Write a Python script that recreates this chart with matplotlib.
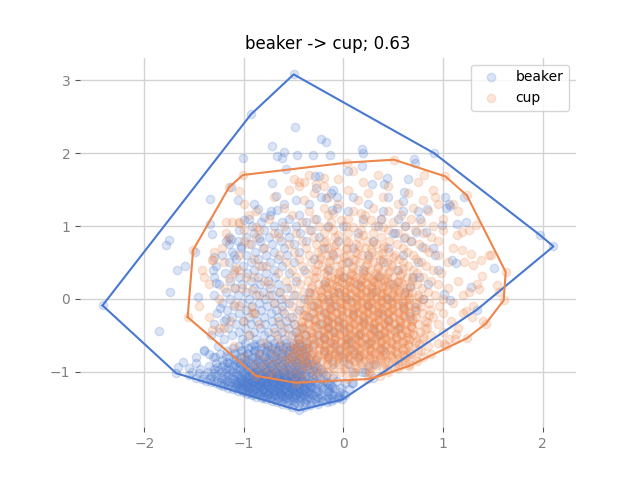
import numpy as np
import matplotlib
matplotlib.use("Agg")
import matplotlib.pyplot as plt

labels = ["beaker", "cup"]
colors = ["#4878d0", "#ee854a"]
title = "beaker -> cup; 0.63"

# ---- beaker (blue) ----
beaker_points = [
    (-2.42, -0.09), (-0.50, 3.08), (-0.93, 2.53), (-0.49, 2.36), (0.91, 2.00), (2.11, 0.72),
    (1.97, 0.88), (-0.01, -1.38), (-0.45, -1.53), (-1.68, -1.02), (-1.665, -0.93), (-1.61, -0.87),
    (-1.85, -0.44), (-1.755, 0.81), (-1.78, 0.74), (-1.67, 0.40), (-1.59, 0.45), (-1.74, 0.09),
    (-1.46, 0.02), (-1.49, 0.65), (-1.32, 0.89), (-1.34, 1.37), (-1.06, 1.36), (-1.13, 1.54),
    (-1.01, 1.93), (-0.72, 2.10), (-0.23, 2.20), (-0.18, 2.15), (-0.60, 2.01), (-0.67, 1.96),
    (-0.62, 1.93), (-0.47, 1.98), (-0.31, 1.98), (-0.13, 1.98), (0.19, 2.05), (0.20, 2.00),
    (0.19, 1.83), (0.05, 1.76), (0.71, 1.92), (0.72, 1.87), (-0.58, 1.78), (-0.29, 1.69),
    (-0.25, 1.69), (-0.72, 1.59), (-0.28, 1.52), (0.44, 1.66), (0.65, 1.64), (0.29, 1.58),
    (0.41, 1.57), (0.61, 1.47), (1.025, 1.40), (1.21, 1.40), (1.06, 1.30), (1.075, 1.27),
    (1.03, 1.25), (0.84, 1.24), (0.60, 1.34), (0.60, 1.20), (0.38, 1.10), (0.99, 1.01),
    (1.14, 1.03), (1.23, 1.05), (0.77, 1.10), (0.83, 0.92), (0.73, 0.92), (-0.68, 1.41),
    (-0.48, 1.36), (-0.23, 1.40), (-0.18, 1.38), (-0.12, 1.45), (-0.06, 1.40), (-0.86, 1.23),
    (-0.73, 1.20), (-0.80, 1.13), (-0.67, 1.22), (-1.00, 1.08), (-1.34, 1.03), (-1.13, 0.82),
    (-1.06, 0.79), (-1.15, 0.75), (-1.03, 0.73), (-0.85, 0.83), (1.51, 0.43), (1.28, 0.16),
    (1.34, -0.15), (0.79, 0.71), (0.92, 0.60), (1.09, 0.53), (1.13, 0.49), (1.01, 0.07),
    (1.075, -0.02), (-0.10, 1.50), (-0.06, 1.25), (-0.11, 1.22), (0.61, 0.83), (0.52, 0.90),
    (0.67, 0.16), (0.76, 0.30), (0.72, -0.11), (0.67, -0.23), (0.19, -1.01), (0.25, -0.92),
    (0.30, -1.08), (0.09, -1.15), (0.02, -1.15), (-0.05, -1.33), (-0.11, -1.22), (-0.10, -1.08),
    (-1.40, -0.70), (-1.35, -0.76), (-1.29, -0.80), (-1.30, 0.58), (-1.31, 0.40), (-1.28, 0.22),
    (-1.15, 0.85), (-1.10, 0.60), (-1.24, -0.12), (-1.18, -0.28), (-1.55, -0.95), (-1.48, -0.80),
]

beaker_rows = [
    (-1.48, [-0.52, -0.40]),
    (-1.44, [-0.62, -0.50, -0.38, -0.26]),
    (-1.40, [-0.72, -0.63, -0.54, -0.44, -0.33, -0.22, -0.12]),
    (-1.36, [-0.82, -0.74, -0.66, -0.58, -0.50, -0.42, -0.34, -0.25, -0.14, -0.05]),
    (-1.32, [-0.92, -0.85, -0.77, -0.69, -0.62, -0.55, -0.48, -0.40, -0.31, -0.22, -0.10, 0.02]),
    (-1.28, [-1.01, -0.94, -0.87, -0.80, -0.73, -0.66, -0.59, -0.52, -0.45, -0.37, -0.28, -0.16, -0.03]),
    (-1.24, [-1.11, -1.04, -0.96, -0.89, -0.82, -0.75, -0.68, -0.61, -0.54, -0.47, -0.40, -0.32, -0.21, -0.08, 0.06]),
    (-1.20, [-1.21, -1.13, -1.06, -0.98, -0.91, -0.84, -0.77, -0.70, -0.63, -0.56, -0.49, -0.41, -0.33, -0.22, -0.11]),
    (-1.16, [-1.28, -1.19, -1.10, -1.02, -0.95, -0.88, -0.81, -0.74, -0.67, -0.60, -0.53, -0.45, -0.36, -0.26, -0.15, 0.10]),
    (-1.12, [-1.38, -1.27, -1.17, -1.08, -1.00, -0.92, -0.85, -0.78, -0.71, -0.64, -0.57, -0.50, -0.42, -0.33, -0.20, -0.06]),
    (-1.08, [-1.48, -1.34, -1.22, -1.12, -1.04, -0.96, -0.88, -0.81, -0.74, -0.67, -0.60, -0.53, -0.45, -0.36, -0.24]),
    (-1.04, [-1.55, -1.40, -1.27, -1.16, -1.07, -0.99, -0.91, -0.83, -0.75, -0.68, -0.60, -0.52, -0.43, -0.32, -0.18]),
    (-1.00, [-1.52, -1.36, -1.23, -1.12, -1.02, -0.93, -0.85, -0.77, -0.69, -0.61, -0.53, -0.44, -0.34, -0.21]),
    (-0.96, [-1.44, -1.30, -1.18, -1.07, -0.97, -0.88, -0.79, -0.71, -0.62, -0.54, -0.45, -0.35, -0.24]),
    (-0.92, [-1.35, -1.22, -1.11, -1.01, -0.91, -0.82, -0.73, -0.64, -0.55, -0.46, -0.37, -0.27]),
    (-0.88, [-1.48, -1.28, -1.15, -1.04, -0.94, -0.84, -0.75, -0.66, -0.56, -0.47, -0.37]),
    (-0.84, [-1.22, -1.10, -0.99, -0.88, -0.78, -0.68, -0.59, -0.49, -0.39, -0.28]),
    (-0.80, [-1.31, -1.15, -1.03, -0.92, -0.81, -0.71, -0.62, -0.52, -0.42]),
    (-0.76, [-1.24, -1.09, -0.96, -0.85, -0.74, -0.64, -0.55, -0.45]),
    (-0.72, [-1.40, -1.17, -1.03, -0.90, -0.78, -0.68, -0.57, -0.47, -0.35]),
    (-0.68, [-1.11, -0.96, -0.83, -0.72, -0.61, -0.50, -0.38]),
    (-0.64, [-1.26, -1.05, -0.89, -0.76, -0.65, -0.54, -0.42]),
    (-0.60, [-0.99, -0.84, -0.70, -0.58, -0.45, -0.30]),
    (-0.55, [-1.20, -1.02, -0.88, -0.74, -0.60, -0.46, -0.20, 0.05]),
    (-0.50, [-1.33, -1.12, -0.95, -0.80, -0.67, -0.52, -0.38]),
    (-0.45, [-1.25, -1.05, -0.90, -0.76, -0.62, -0.48, -0.10]),
    (-0.40, [-1.16, -0.99, -0.84, -0.70, -0.56, -0.42]),
    (-0.35, [-1.30, -1.08, -0.93, -0.79, -0.64, -0.50, -0.25]),
    (-0.30, [-1.20, -1.01, -0.87, -0.72, -0.58, -0.15]),
    (-0.25, [-1.12, -0.95, -0.80, -0.66, -0.52, -0.35]),
    (-0.20, [-1.27, -1.05, -0.89, -0.73, -0.60]),
    (-0.15, [-1.17, -0.98, -0.83, -0.68, -0.45]),
    (-0.10, [-1.10, -0.92, -0.77, -0.62, -0.30]),
    (-0.05, [-1.22, -1.02, -0.85, -0.70, -0.55]),
    (0.00, [-1.14, -0.95, -0.79, -0.63, -0.40]),
    (0.05, [-1.30, -1.06, -0.88, -0.72, -0.50]),
    (0.10, [-1.18, -0.98, -0.81, -0.65, -0.35]),
    (0.15, [-1.09, -0.90, -0.74, -0.57]),
    (0.20, [-1.25, -1.02, -0.84, -0.66]),
    (0.25, [-1.14, -0.93, -0.76, -0.48]),
    (0.30, [-1.30, -1.05, -0.86, -0.69]),
    (0.35, [-1.19, -0.97, -0.78, -0.55]),
    (0.40, [-1.10, -0.90, -0.70, -0.40]),
    (0.45, [-1.28, -1.01, -0.82, -0.62]),
    (0.50, [-1.15, -0.93, -0.74, -0.50]),
    (0.55, [-1.08, -0.86, -0.66, -0.30]),
    (0.60, [-1.22, -0.98, -0.78, -0.57]),
    (0.65, [-1.12, -0.89, -0.70, -0.45]),
    (0.70, [-1.03, -0.81, -0.60, -0.20]),
    (0.75, [-0.93, -0.72, -0.50]),
    (0.80, [-1.18, -0.84, -0.63, -0.38]),
    (0.85, [-0.98, -0.75, -0.55, -0.25]),
    (0.90, [-0.90, -0.66, -0.44]),
    (0.95, [-1.05, -0.80, -0.58, -0.33]),
    (1.00, [-0.92, -0.70, -0.48, -0.15]),
    (1.05, [-0.83, -0.62, -0.38]),
    (1.10, [-0.95, -0.55, -0.28]),
    (1.15, [-0.74, -0.45]),
    (1.30, [-0.90, -0.60, -0.35]),
    (-1.00, [0.10, 0.22]),
    (-0.90, [-0.10, 0.05, 0.32]),
    (-0.80, [-0.15, 0.00, 0.15]),
    (-0.70, [-0.20, -0.05, 0.10, 0.40]),
    (-0.60, [-0.10, 0.05, 0.25]),
    (-0.50, [-0.25, 0.15, 0.35]),
    (-0.40, [-0.15, 0.00, 0.30, 0.55]),
    (-0.30, [-0.05, 0.20, 0.45]),
    (-0.20, [-0.20, 0.10, 0.38]),
    (-0.10, [-0.10, 0.25, 0.60]),
    (0.00, [-0.15, 0.05, 0.45, 0.80]),
    (0.10, [-0.05, 0.30, 0.62]),
    (0.20, [-0.20, 0.15, 0.50, 0.85]),
    (0.30, [0.00, 0.35, 0.70]),
    (0.40, [-0.15, 0.20, 0.55, 0.95]),
    (0.50, [0.05, 0.40, 0.75]),
    (0.60, [-0.10, 0.25, 0.60]),
    (0.70, [0.10, 0.45, 0.90]),
    (0.80, [-0.05, 0.30, 0.68]),
    (0.90, [0.15, 0.50]),
    (1.00, [0.00, 0.35, 0.62]),
    (1.10, [0.20, 0.55]),
    (1.20, [0.05, 0.40, 0.75]),
    (1.30, [0.25]),
    (1.40, [0.10, 0.45]),
]

beaker_core_rows = [
    (-1.46, [-0.56, -0.46, -0.34]),
    (-1.42, [-0.67, -0.58, -0.49, -0.39, -0.28, -0.17]),
    (-1.38, [-0.78, -0.70, -0.62, -0.54, -0.46, -0.38, -0.29, -0.19, -0.09]),
    (-1.34, [-0.88, -0.81, -0.73, -0.65, -0.58, -0.51, -0.44, -0.36, -0.27, -0.16, -0.04]),
    (-1.30, [-0.97, -0.90, -0.83, -0.76, -0.70, -0.63, -0.56, -0.49, -0.41, -0.33, -0.24, -0.12, 0.00]),
    (-1.26, [-1.06, -0.99, -0.92, -0.85, -0.78, -0.71, -0.64, -0.57, -0.50, -0.43, -0.35, -0.26, -0.14]),
    (-1.22, [-1.16, -1.09, -1.01, -0.94, -0.87, -0.80, -0.73, -0.66, -0.59, -0.52, -0.45, -0.37, -0.28, -0.16, -0.02]),
    (-1.18, [-1.24, -1.16, -1.08, -1.00, -0.93, -0.86, -0.79, -0.72, -0.65, -0.58, -0.51, -0.43, -0.34, -0.24, -0.13]),
    (-1.14, [-1.33, -1.23, -1.14, -1.05, -0.97, -0.90, -0.83, -0.76, -0.69, -0.62, -0.55, -0.47, -0.39, -0.29, -0.17]),
    (-1.10, [-1.42, -1.30, -1.19, -1.10, -1.02, -0.94, -0.87, -0.80, -0.73, -0.66, -0.59, -0.51, -0.42, -0.31]),
    (-1.06, [-1.33, -1.21, -1.11, -1.03, -0.95, -0.87, -0.79, -0.72, -0.64, -0.56, -0.48, -0.39, -0.28]),
    (-1.02, [-1.45, -1.30, -1.18, -1.08, -0.99, -0.90, -0.82, -0.74, -0.66, -0.58, -0.49, -0.39, -0.26]),
    (-0.98, [-1.26, -1.14, -1.04, -0.95, -0.86, -0.77, -0.69, -0.60, -0.51, -0.42, -0.31]),
    (-0.94, [-1.27, -1.16, -1.05, -0.95, -0.86, -0.77, -0.68, -0.59, -0.50, -0.41, -0.30]),
    (-0.90, [-1.20, -1.09, -0.99, -0.89, -0.79, -0.70, -0.61, -0.52, -0.42, -0.32]),
    (-0.86, [-1.17, -1.06, -0.96, -0.86, -0.77, -0.68, -0.58, -0.48, -0.38]),
    (-0.82, [-1.08, -0.97, -0.86, -0.76, -0.66, -0.56, -0.46, -0.35]),
    (-0.78, [-1.18, -1.00, -0.89, -0.79, -0.69, -0.59, -0.49, -0.38]),
    (-0.74, [-1.10, -0.97, -0.85, -0.73, -0.62, -0.51, -0.40]),
    (-0.70, [-1.02, -0.89, -0.77, -0.66, -0.55, -0.43]),
    (-0.66, [-0.93, -0.80, -0.69, -0.58, -0.47]),
    (-0.62, [-0.90, -0.77, -0.64, -0.51, -0.38]),
    (-1.33, [-0.80, -0.71, -0.61, -0.52, -0.43]),
    (-1.29, [-0.95, -0.85, -0.75, -0.64, -0.55, -0.45, -0.35]),
    (-1.25, [-1.02, -0.91, -0.81, -0.70, -0.61, -0.51, -0.41]),
    (-1.21, [-1.04, -0.95, -0.84, -0.75, -0.65, -0.54, -0.45, -0.34]),
    (-1.17, [-1.07, -0.97, -0.86, -0.77, -0.66, -0.57, -0.46, -0.37]),
    (-1.13, [-1.03, -0.92, -0.83, -0.72, -0.63, -0.52, -0.43]),
    (-1.09, [-0.99, -0.89, -0.78, -0.69, -0.58, -0.49]),
    (-1.05, [-0.94, -0.85, -0.74, -0.65, -0.54, -0.45]),
    (-1.01, [-0.88, -0.79, -0.68, -0.59, -0.48]),
]

# ---- cup (orange) ----
cup_points = [
    (-1.51, 0.67), (-1.565, -0.25), (-1.01, 1.70), (-1.15, 1.53), (0.04, 1.87), (0.506, 1.91),
    (1.025, 1.68), (1.24, 1.42), (1.63, 0.37), (1.61, -0.02), (1.43, -0.34), (1.24, -0.54),
    (0.66, -0.92), (0.37, -1.055), (-0.48, -1.15), (-0.88, -1.055),
    (0.81, 1.70), (-1.05, 1.48), (-1.32, 0.53), (-1.16, 0.82), (1.545, 0.19), (1.56, 0.10),
    (1.48, 0.60), (1.38, 0.53), (1.39, 0.31), (1.36, 0.14), (1.40, -0.30), (1.29, -0.25),
    (1.33, 1.01), (1.26, 0.94), (1.19, 0.92), (1.14, 0.88), (1.28, 0.62), (1.21, 0.51),
    (1.19, 0.67), (1.30, 0.47), (1.06, -0.55), (1.01, -0.62), (1.13, -0.48), (1.46, 0.60),
    (1.34, 0.21), (1.26, 0.09), (1.23, -0.16), (1.10, 1.30), (1.15, 1.20), (0.92, 1.40),
    (-1.18, 1.05), (-1.12, 1.06), (-1.05, 1.04), (-0.88, 0.98), (-0.88, 0.85), (-0.50, 1.65),
    (-0.40, 1.60), (-0.28, 1.58), (-0.20, 1.66), (-0.45, 1.55), (-1.35, 0.20), (-1.42, 0.40),
    (-1.25, -0.40), (-1.45, -0.10), (-1.32, -0.43), (-1.14, -0.30), (-1.00, -0.30), (-0.93, -0.11),
    (-1.10, -0.07), (-1.31, 0.53), (-1.15, 0.28), (-1.02, 0.15), (-1.08, 0.42),
    (-1.10, 0.35), (-0.98, 0.30), (-0.92, 0.12), (-0.85, 0.45), (-1.05, 0.60), (-0.95, 0.75),
    (-1.20, 0.15), (-0.80, 0.25), (-0.75, 0.05), (-0.90, -0.20), (-1.00, 0.95), (-1.22, 0.70),
    (-0.70, 0.90), (-0.95, 1.15),
]

cup_rows = [
    (-1.10, [-0.40, -0.20, 0.05, 0.25]),
    (-1.05, [-0.70, -0.50, -0.30, -0.10, 0.10, 0.28]),
    (-1.00, [-0.75, -0.58, -0.42, -0.28, -0.15, -0.02, 0.12, 0.26, 0.45]),
    (-0.95, [-0.82, -0.64, -0.48, -0.35, -0.22, -0.10, 0.02, 0.14, 0.27, 0.40, 0.55]),
    (-0.90, [-0.90, -0.70, -0.54, -0.41, -0.29, -0.17, -0.05, 0.06, 0.18, 0.30, 0.42, 0.56, 0.66]),
    (-0.85, [-0.78, -0.60, -0.46, -0.34, -0.22, -0.11, 0.00, 0.11, 0.22, 0.33, 0.45, 0.58, 0.74]),
    (-0.80, [-1.00, -0.68, -0.52, -0.39, -0.27, -0.16, -0.05, 0.05, 0.15, 0.26, 0.37, 0.49, 0.62, 0.80]),
    (-0.75, [-0.85, -0.60, -0.45, -0.32, -0.20, -0.09, 0.01, 0.11, 0.21, 0.31, 0.42, 0.54, 0.68, 0.88]),
    (-0.70, [-0.72, -0.52, -0.38, -0.25, -0.14, -0.03, 0.07, 0.17, 0.27, 0.37, 0.48, 0.60, 0.75]),
    (-0.65, [-1.10, -0.62, -0.44, -0.31, -0.19, -0.08, 0.02, 0.12, 0.22, 0.32, 0.42, 0.53, 0.66, 0.85, 1.03]),
    (-0.60, [-0.80, -0.52, -0.37, -0.25, -0.13, -0.02, 0.08, 0.18, 0.28, 0.38, 0.48, 0.59, 0.72, 0.95]),
    (-0.55, [-0.66, -0.45, -0.31, -0.19, -0.08, 0.03, 0.13, 0.23, 0.33, 0.43, 0.54, 0.66, 0.80, 1.12]),
    (-0.50, [-0.95, -0.56, -0.39, -0.26, -0.14, -0.03, 0.07, 0.17, 0.27, 0.37, 0.47, 0.58, 0.71, 0.88]),
    (-0.45, [-0.70, -0.48, -0.33, -0.20, -0.09, 0.02, 0.12, 0.22, 0.32, 0.42, 0.52, 0.63, 0.77, 1.00]),
    (-0.40, [-1.20, -0.60, -0.41, -0.27, -0.15, -0.04, 0.06, 0.16, 0.26, 0.36, 0.46, 0.57, 0.69, 0.84, 1.15]),
    (-0.35, [-0.85, -0.50, -0.35, -0.22, -0.10, 0.01, 0.11, 0.21, 0.31, 0.41, 0.51, 0.62, 0.75, 0.95]),
    (-0.30, [-0.66, -0.43, -0.29, -0.16, -0.05, 0.06, 0.16, 0.26, 0.36, 0.46, 0.57, 0.69, 0.82, 1.08]),
    (-0.25, [-1.35, -0.55, -0.37, -0.23, -0.11, 0.00, 0.10, 0.20, 0.30, 0.40, 0.50, 0.61, 0.73, 0.90]),
    (-0.20, [-0.92, -0.47, -0.31, -0.18, -0.06, 0.05, 0.15, 0.25, 0.35, 0.45, 0.55, 0.66, 0.79, 1.00, 1.20]),
    (-0.15, [-0.62, -0.40, -0.25, -0.12, -0.01, 0.10, 0.20, 0.30, 0.40, 0.50, 0.61, 0.73, 0.87]),
    (-0.10, [-1.05, -0.52, -0.33, -0.19, -0.07, 0.04, 0.14, 0.24, 0.34, 0.44, 0.54, 0.65, 0.78, 0.96, 1.30]),
    (-0.05, [-0.70, -0.44, -0.27, -0.14, -0.02, 0.09, 0.19, 0.29, 0.39, 0.49, 0.60, 0.72, 0.86, 1.10]),
    (0.00, [-1.25, -0.58, -0.36, -0.21, -0.08, 0.03, 0.13, 0.23, 0.33, 0.43, 0.54, 0.66, 0.80, 1.00]),
    (0.05, [-0.85, -0.48, -0.29, -0.15, -0.03, 0.08, 0.18, 0.28, 0.38, 0.49, 0.61, 0.75, 0.92, 1.20]),
    (0.10, [-0.64, -0.40, -0.23, -0.10, 0.02, 0.13, 0.23, 0.33, 0.44, 0.56, 0.69, 0.85]),
    (0.15, [-1.10, -0.53, -0.33, -0.17, -0.04, 0.08, 0.18, 0.28, 0.39, 0.51, 0.64, 0.79, 1.05]),
    (0.20, [-0.75, -0.44, -0.26, -0.11, 0.02, 0.13, 0.24, 0.35, 0.47, 0.60, 0.74, 0.95]),
    (0.25, [-0.58, -0.36, -0.19, -0.05, 0.07, 0.18, 0.30, 0.42, 0.55, 0.69, 0.88, 1.15]),
    (0.30, [-1.40, -0.90, -0.48, -0.28, -0.12, 0.01, 0.13, 0.25, 0.37, 0.50, 0.64, 0.80]),
    (0.35, [-0.66, -0.38, -0.20, -0.05, 0.08, 0.20, 0.32, 0.45, 0.59, 0.74, 0.98]),
    (0.40, [-1.05, -0.52, -0.30, -0.13, 0.02, 0.15, 0.27, 0.40, 0.54, 0.70, 0.90]),
    (0.45, [-0.78, -0.42, -0.22, -0.06, 0.09, 0.22, 0.35, 0.49, 0.65, 0.83]),
    (0.50, [-1.20, -0.58, -0.33, -0.14, 0.03, 0.17, 0.30, 0.44, 0.60, 0.78, 1.05]),
    (0.55, [-0.90, -0.45, -0.24, -0.06, 0.10, 0.25, 0.40, 0.56, 0.73]),
    (0.60, [-0.65, -0.35, -0.15, 0.03, 0.19, 0.35, 0.52, 0.70, 0.95]),
    (0.65, [-1.30, -0.50, -0.26, -0.06, 0.12, 0.29, 0.46, 0.64, 0.86]),
    (0.70, [-0.80, -0.38, -0.16, 0.04, 0.22, 0.40, 0.60, 0.82, 1.10]),
    (0.75, [-0.55, -0.28, -0.07, 0.13, 0.33, 0.54, 0.76]),
    (0.80, [-1.00, -0.42, -0.18, 0.03, 0.24, 0.46, 0.68, 0.95]),
    (0.85, [-0.65, -0.30, -0.08, 0.15, 0.38, 0.62, 0.88]),
    (0.90, [-1.18, -0.48, -0.20, 0.05, 0.30, 0.55, 0.80]),
    (0.95, [-0.85, -0.35, -0.10, 0.18, 0.45, 0.72, 1.00]),
    (1.00, [-0.60, -0.25, 0.03, 0.32, 0.62, 0.90]),
    (1.05, [-1.05, -0.42, -0.12, 0.20, 0.50, 0.78]),
    (1.10, [-0.75, -0.30, 0.05, 0.38, 0.68, 1.00]),
    (1.15, [-0.52, -0.15, 0.22, 0.58]),
    (1.20, [-0.88, -0.35, 0.10, 0.45, 0.85]),
    (1.25, [-0.60, -0.20, 0.30, 0.70]),
    (1.30, [-1.00, -0.05, 0.55, 0.95]),
    (1.35, [-0.40, 0.15, 0.80]),
    (1.40, [-0.70, -0.15, 0.40]),
    (1.45, [-0.30, 0.25, 0.65]),
    (1.50, [-0.55, 0.05, 0.90]),
    (1.55, [-0.20, 0.45]),
    (1.60, [-0.45, 0.20, 0.75]),
    (1.65, [-0.05]),
    (1.70, [-0.35, 0.35]),
    (1.75, [0.10]),
]

cup_core_rows = [
    (-0.825, [-0.55, -0.40, -0.28, -0.16, -0.05, 0.06, 0.16, 0.27, 0.38, 0.50]),
    (-0.775, [-0.52, -0.38, -0.26, -0.14, -0.04, 0.06, 0.16, 0.26, 0.36, 0.47, 0.60]),
    (-0.725, [-0.45, -0.31, -0.19, -0.08, 0.02, 0.12, 0.22, 0.32, 0.42, 0.54, 0.67]),
    (-0.675, [-0.50, -0.37, -0.25, -0.13, -0.03, 0.07, 0.17, 0.27, 0.37, 0.47, 0.59]),
    (-0.625, [-0.43, -0.30, -0.19, -0.08, 0.03, 0.13, 0.23, 0.33, 0.43, 0.54, 0.65]),
    (-0.575, [-0.38, -0.25, -0.13, -0.02, 0.08, 0.18, 0.28, 0.38, 0.48, 0.60, 0.73]),
    (-0.525, [-0.46, -0.32, -0.20, -0.08, 0.02, 0.12, 0.22, 0.32, 0.42, 0.53, 0.64]),
    (-0.475, [-0.40, -0.27, -0.15, -0.04, 0.07, 0.17, 0.27, 0.37, 0.47, 0.58, 0.70]),
    (-0.425, [-0.34, -0.21, -0.10, 0.01, 0.11, 0.21, 0.31, 0.41, 0.51, 0.62]),
    (-0.375, [-0.42, -0.28, -0.16, -0.05, 0.06, 0.16, 0.26, 0.36, 0.46, 0.57, 0.68]),
    (-0.325, [-0.36, -0.22, -0.11, 0.00, 0.11, 0.21, 0.31, 0.41, 0.52, 0.63]),
    (-0.275, [-0.30, -0.17, -0.06, 0.05, 0.15, 0.25, 0.35, 0.45, 0.56, 0.67]),
    (-0.225, [-0.38, -0.24, -0.12, -0.01, 0.10, 0.20, 0.30, 0.40, 0.50, 0.61]),
    (-0.175, [-0.31, -0.18, -0.07, 0.04, 0.15, 0.25, 0.35, 0.45, 0.55, 0.67]),
    (-0.125, [-0.26, -0.13, -0.02, 0.09, 0.19, 0.29, 0.39, 0.49, 0.60]),
    (-0.075, [-0.33, -0.20, -0.08, 0.03, 0.14, 0.24, 0.34, 0.44, 0.55, 0.66]),
    (-0.025, [-0.27, -0.14, -0.03, 0.08, 0.18, 0.28, 0.38, 0.48, 0.59]),
    (0.025, [-0.22, -0.09, 0.02, 0.13, 0.23, 0.33, 0.43, 0.54, 0.66]),
    (0.075, [-0.30, -0.16, -0.04, 0.07, 0.18, 0.28, 0.38, 0.49, 0.61]),
    (0.125, [-0.24, -0.11, 0.01, 0.12, 0.23, 0.33, 0.44, 0.56]),
    (0.175, [-0.18, -0.06, 0.06, 0.17, 0.28, 0.39, 0.51]),
    (0.225, [-0.14, -0.01, 0.11, 0.22, 0.33, 0.45, 0.58]),
    (0.275, [-0.08, 0.05, 0.17, 0.29, 0.41]),
    (0.325, [-0.04, 0.10, 0.23, 0.36]),
]

cup_spread_rows = [
    (-0.97, [-0.22, 0.02, 0.24, 0.44]),
    (-0.92, [-0.38, -0.12, 0.12, 0.33, 0.52]),
    (-0.87, [-0.30, -0.04, 0.20, 0.42, 0.62]),
    (-0.82, [-0.44, -0.18, 0.07, 0.30, 0.55, 0.72]),
    (-0.77, [-0.33, -0.08, 0.17, 0.40, 0.64]),
    (-0.72, [-0.46, -0.20, 0.04, 0.28, 0.52, 0.78]),
    (-0.67, [-0.36, -0.10, 0.14, 0.38, 0.62]),
    (-0.62, [-0.48, -0.22, 0.02, 0.26, 0.50, 0.76]),
    (-0.57, [-0.34, -0.09, 0.15, 0.39, 0.63]),
    (-0.52, [-0.45, -0.20, 0.05, 0.29, 0.53, 0.80]),
    (-0.47, [-0.32, -0.07, 0.17, 0.41, 0.66]),
    (-0.42, [-0.44, -0.19, 0.06, 0.30, 0.55, 0.82]),
    (-0.37, [-0.30, -0.05, 0.19, 0.43, 0.68]),
    (-0.32, [-0.42, -0.17, 0.08, 0.32, 0.57, 0.84]),
    (-0.27, [-0.29, -0.04, 0.21, 0.45, 0.70]),
    (-0.22, [-0.40, -0.15, 0.10, 0.34, 0.59, 0.86]),
    (-0.17, [-0.27, -0.02, 0.23, 0.47, 0.72]),
    (-0.12, [-0.38, -0.13, 0.12, 0.36, 0.61]),
    (-0.07, [-0.25, 0.00, 0.25, 0.49, 0.74]),
    (-0.02, [-0.36, -0.11, 0.14, 0.38, 0.63]),
    (0.03, [-0.23, 0.02, 0.27, 0.51, 0.76]),
    (0.08, [-0.34, -0.09, 0.16, 0.40, 0.65]),
    (0.13, [-0.21, 0.04, 0.29, 0.53]),
    (0.18, [-0.32, -0.07, 0.18, 0.42, 0.67]),
    (0.23, [-0.19, 0.06, 0.31, 0.55]),
    (0.28, [-0.30, -0.05, 0.20, 0.44, 0.69]),
    (0.33, [-0.17, 0.08, 0.33, 0.57]),
    (0.38, [-0.28, -0.03, 0.22, 0.46]),
    (0.43, [-0.15, 0.10, 0.35, 0.60]),
    (0.48, [-0.26, -0.01, 0.24, 0.48]),
    (0.53, [-0.13, 0.12, 0.37]),
    (0.58, [-0.24, 0.01, 0.26, 0.50]),
    (0.63, [-0.11, 0.14, 0.39]),
    (0.68, [-0.22, 0.03, 0.28]),
    (0.73, [-0.09, 0.16, 0.41]),
    (0.78, [-0.20, 0.05, 0.30]),
    (0.88, [-0.05, 0.20]),
    (0.98, [-0.15, 0.10, 0.40]),
    (1.08, [-0.02, 0.28]),
    (1.18, [-0.10, 0.18]),
]


def collect(points, *row_sets):
    pts = list(points)
    for rows in row_sets:
        pts += [(x, y) for y, xs in rows for x in xs]
    return np.array(pts, dtype=float)


def convex_hull(pts):
    p = sorted(set(map(tuple, pts)))

    def cross(o, a, b):
        return (a[0] - o[0]) * (b[1] - o[1]) - (a[1] - o[1]) * (b[0] - o[0])

    lower = []
    for q in p:
        while len(lower) >= 2 and cross(lower[-2], lower[-1], q) <= 0:
            lower.pop()
        lower.append(q)
    upper = []
    for q in reversed(p):
        while len(upper) >= 2 and cross(upper[-2], upper[-1], q) <= 0:
            upper.pop()
        upper.append(q)
    h = lower[:-1] + upper[:-1]
    h.append(h[0])
    return np.array(h)


data = [collect(beaker_points, beaker_rows, beaker_core_rows),
        collect(cup_points, cup_rows, cup_core_rows, cup_spread_rows)]

fig, ax = plt.subplots(figsize=(6.4, 4.8), dpi=100)
for lab, col, pts in zip(labels, colors, data):
    ax.scatter(pts[:, 0], pts[:, 1], color=col, alpha=0.2, label=lab)
    h = convex_hull(pts)
    ax.plot(h[:, 0], h[:, 1], color=col, lw=1.5)

ax.set_title(title)
ax.grid(True, color="#d3d3d3", lw=1)
ax.set_axisbelow(True)
for s in ax.spines.values():
    s.set_visible(False)
ax.tick_params(colors="#555555", labelcolor="#808080")
ax.legend(loc="upper right")
fig.savefig("out.png")
